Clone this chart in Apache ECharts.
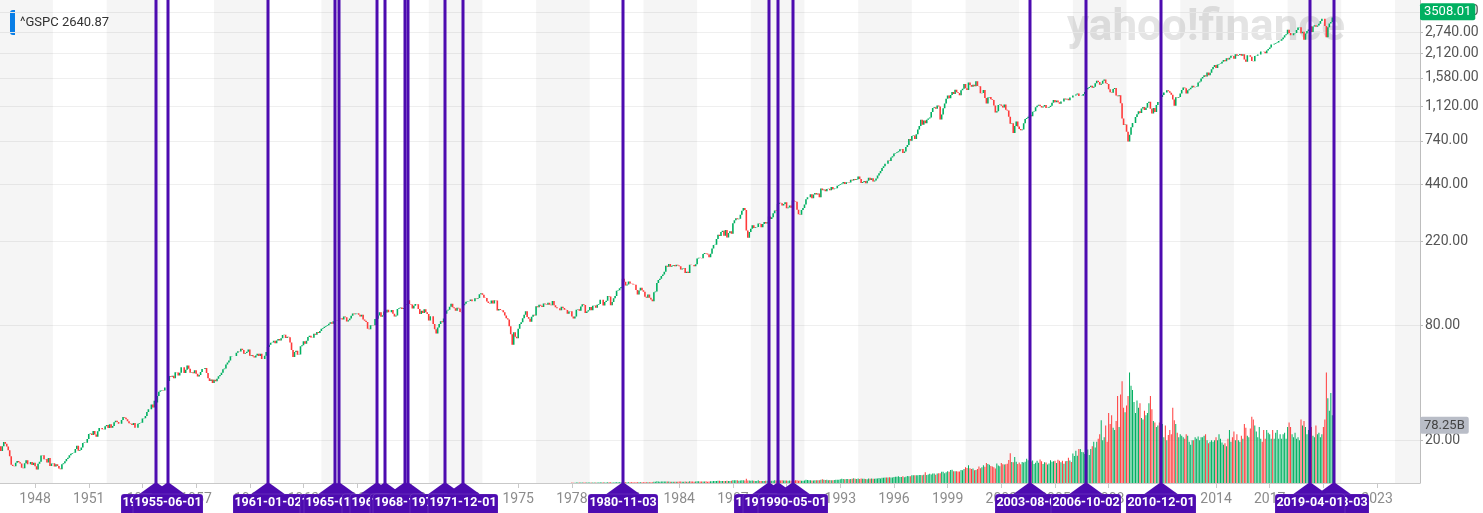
<!DOCTYPE html>
<html><head><meta charset="utf-8">
<script src="https://cdn.jsdelivr.net/npm/echarts@6/dist/echarts.min.js"></script>
<style>html,body{margin:0;padding:0;background:#fff}#c{width:1483px;height:513px}</style>
</head><body><div id="c"></div>
<script>
// ---------- DATA ----------
const START_YEAR = 1946;          // first monthly candle: 1946-01
const FIRST_OPEN = 18.02;
// monthly closes 1946-01 .. 2020-08
const closes = [
18.66,17.66,18.70,19.67,19.25,18.64,17.78,16.55,14.96,14.75,14.69,15.30,
15.66,15.41,15.17,14.44,14.33,15.24,15.77,15.06,15.06,15.45,14.91,15.30,
14.69,14.10,15.14,15.48,16.69,16.74,15.97,16.03,15.38,16.22,14.75,15.20,
15.22,14.62,15.06,14.74,14.29,14.16,15.04,15.22,15.58,16.04,16.28,16.76,
17.05,17.22,17.29,18.07,18.78,17.69,17.84,18.42,19.45,19.53,19.51,20.41,
21.66,21.80,21.40,22.43,21.52,20.96,22.40,23.28,23.26,22.94,22.88,23.77,
24.14,23.26,24.37,23.32,23.86,24.96,25.40,25.03,24.54,24.52,25.66,26.57,
26.38,25.90,25.29,24.62,24.54,24.14,24.75,23.32,23.35,24.54,24.76,24.81,
26.08,26.15,26.94,28.26,29.19,29.21,30.88,29.83,32.31,31.68,34.24,35.98,
36.63,36.76,36.58,37.96,37.91,41.03,43.52,43.18,43.67,42.34,45.51,45.48,
43.82,45.34,48.48,48.38,45.20,46.97,49.39,47.51,45.35,45.58,45.08,46.67,
44.72,43.26,44.11,45.74,47.43,47.37,47.91,45.22,42.42,41.06,41.72,39.99,
41.70,40.84,42.10,43.44,44.09,45.24,47.19,47.75,50.06,51.33,52.48,55.21,
55.42,55.41,55.44,57.59,58.68,58.47,60.51,59.60,56.88,57.52,58.28,59.89,
55.61,56.12,55.34,54.37,55.83,56.92,55.51,56.96,53.52,53.39,55.54,58.11,
61.78,63.44,65.06,65.31,66.56,64.64,66.76,68.07,66.73,68.62,71.32,71.55,
68.84,69.96,69.55,65.24,59.63,54.75,58.23,59.12,56.27,56.52,62.26,63.10,
66.20,64.29,66.57,69.80,70.80,69.37,69.13,72.50,71.70,74.01,73.23,75.02,
77.04,77.80,78.98,79.46,80.37,81.69,83.18,81.83,84.18,84.86,84.42,84.75,
87.56,87.43,86.16,89.11,88.42,84.12,85.25,87.17,89.96,92.42,91.61,92.43,
92.88,91.22,89.23,91.06,86.13,84.74,83.60,77.10,76.56,80.20,80.45,80.33,
86.61,86.78,90.20,94.01,89.08,90.64,94.75,93.64,96.71,93.90,94.00,96.47,
92.24,89.36,90.20,97.59,98.68,99.58,97.74,98.86,102.67,103.41,108.37,103.86,
103.01,98.13,101.51,103.69,103.46,97.71,91.83,95.51,93.12,97.24,93.81,92.06,
85.02,89.50,89.63,81.52,76.55,72.72,78.05,81.52,84.21,83.25,87.20,92.15,
95.88,96.75,100.31,103.95,99.63,98.70,95.58,99.03,98.34,94.23,93.99,102.09,
103.94,106.57,107.20,107.67,109.53,107.14,107.39,111.09,110.55,111.58,116.67,118.05,
116.03,111.68,111.52,106.97,104.95,104.26,108.22,104.25,108.43,108.29,95.96,97.55,
96.57,96.22,93.98,90.31,87.28,86.00,79.31,72.15,63.54,73.90,69.97,68.56,
76.98,81.59,83.36,87.30,91.15,95.19,88.75,86.88,83.87,89.04,91.24,90.19,
100.86,99.71,102.77,101.64,100.18,104.28,103.44,102.91,105.24,102.90,102.10,107.46,
102.03,99.82,98.42,98.44,96.12,100.48,98.85,96.77,96.53,92.34,94.83,95.10,
89.25,87.04,89.21,96.83,97.24,95.53,100.68,103.29,102.54,93.15,94.70,96.11,
99.93,96.28,101.59,101.76,99.08,102.91,103.81,109.32,109.32,101.82,106.16,107.94,
114.16,113.66,102.09,106.29,111.24,114.24,121.67,122.38,125.46,127.47,140.52,135.76,
129.55,131.27,136.00,132.81,132.59,131.21,130.92,122.79,116.18,121.89,126.35,122.55,
120.40,113.11,111.96,116.44,111.88,109.61,107.09,119.51,120.42,133.71,138.54,140.64,
145.30,148.06,152.96,164.42,162.39,168.11,162.56,164.40,166.07,163.55,166.40,164.93,
163.41,157.06,159.18,160.05,150.55,153.18,150.66,166.68,166.10,166.09,163.58,167.24,
179.63,181.18,180.66,179.83,189.55,191.85,190.92,188.63,182.08,189.82,202.17,211.28,
211.78,226.92,238.90,235.52,247.35,250.84,236.12,252.93,231.32,243.98,249.22,242.17,
274.08,284.20,291.70,288.36,290.10,304.00,318.66,329.80,321.83,251.79,230.30,247.08,
257.07,267.82,258.89,261.33,262.16,273.50,272.02,261.52,271.91,278.97,273.70,277.72,
297.47,288.86,294.87,309.64,320.52,317.98,346.08,351.45,349.15,340.36,345.99,353.40,
329.08,331.89,339.94,330.80,361.23,358.02,356.15,322.56,306.05,304.00,322.22,330.22,
343.93,367.07,375.22,375.34,389.83,371.16,387.81,395.43,387.86,392.46,375.22,417.09,
408.79,412.70,403.69,414.95,415.35,408.14,424.21,414.03,417.80,418.68,431.35,435.71,
438.78,443.38,451.67,440.19,450.19,450.53,448.13,463.56,458.93,467.83,461.79,466.45,
481.61,467.14,445.77,450.91,456.50,444.27,458.26,475.49,462.69,472.35,453.69,459.27,
470.42,487.39,500.71,514.71,533.40,544.75,562.06,561.88,584.41,581.50,605.37,615.93,
636.02,640.43,645.50,654.17,669.12,670.63,639.95,651.99,687.31,705.27,757.02,740.74,
786.16,790.82,757.12,801.34,848.28,885.14,954.31,899.47,947.28,914.62,955.40,970.43,
980.28,1049.34,1101.75,1111.75,1090.82,1133.84,1120.67,957.28,1017.01,1098.67,1163.63,1229.23,
1279.64,1238.33,1286.37,1335.18,1301.84,1372.71,1328.72,1320.41,1282.71,1362.93,1388.91,1469.25,
1394.46,1366.42,1498.58,1452.43,1420.60,1454.60,1430.83,1517.68,1436.51,1429.40,1314.95,1320.28,
1366.01,1239.94,1160.33,1249.46,1255.82,1224.38,1211.23,1133.58,1040.94,1059.78,1139.45,1148.08,
1130.20,1106.73,1147.39,1076.92,1067.14,989.82,911.62,916.07,815.28,885.76,936.31,879.82,
855.70,841.15,848.18,916.92,963.59,974.50,990.31,1008.01,995.97,1050.71,1058.20,1111.92,
1131.13,1144.94,1126.21,1107.30,1120.68,1140.84,1101.72,1104.24,1114.58,1130.20,1173.82,1211.92,
1181.27,1203.60,1180.59,1156.85,1191.50,1191.33,1234.18,1220.33,1228.81,1207.01,1249.48,1248.29,
1280.08,1280.66,1294.83,1310.61,1270.09,1270.20,1276.66,1303.82,1335.85,1377.94,1400.63,1418.30,
1438.24,1406.82,1420.86,1482.37,1530.62,1503.35,1455.27,1473.99,1526.75,1549.38,1481.14,1468.36,
1378.55,1330.63,1322.70,1385.59,1400.38,1280.00,1267.38,1282.83,1166.36,968.75,896.24,903.25,
825.88,735.09,797.87,872.81,919.14,919.32,987.48,1020.62,1057.08,1036.19,1095.63,1115.10,
1073.87,1104.49,1169.43,1186.69,1089.41,1030.71,1101.60,1049.33,1141.20,1183.26,1180.55,1257.64,
1286.12,1327.22,1325.83,1363.61,1345.20,1320.64,1292.28,1218.89,1131.42,1253.30,1246.96,1257.60,
1312.41,1365.68,1408.47,1397.91,1310.33,1362.16,1379.32,1406.58,1440.67,1412.16,1416.18,1426.19,
1498.11,1514.68,1569.19,1597.57,1630.74,1606.28,1685.73,1632.97,1681.55,1756.54,1805.81,1848.36,
1782.59,1859.45,1872.34,1883.95,1923.57,1960.23,1930.67,2003.37,1972.29,2018.05,2067.56,2058.90,
1994.99,2104.50,2067.89,2085.51,2107.39,2063.11,2103.84,1972.18,1920.03,2079.36,2080.41,2043.94,
1940.24,1932.23,2059.74,2065.30,2096.95,2098.86,2173.60,2170.95,2168.27,2126.15,2198.81,2238.83,
2278.87,2363.64,2362.72,2384.20,2411.80,2423.41,2470.30,2471.65,2519.36,2575.26,2647.58,2673.61,
2823.81,2713.83,2640.87,2648.05,2705.27,2718.37,2816.29,2901.52,2913.98,2711.74,2760.17,2506.85,
2704.10,2784.49,2834.40,2945.83,2752.06,2941.76,2980.38,2926.46,2976.74,3037.56,3140.98,3230.78,
3225.52,2954.22,2584.59,2912.43,3044.31,3100.29,3271.12,3508.01
];
// monthly volume in billions, 1978-01 .. 2020-08
const VOLUME_START_YEAR = 1978;
const volumesB = [
0.55,0.43,0.49,0.67,0.72,0.59,0.62,0.83,0.66,0.80,0.63,0.56,
0.67,0.57,0.62,0.65,0.67,0.69,0.61,0.87,0.83,0.85,0.73,0.68,
1.08,0.96,0.87,0.75,0.80,0.92,1.07,1.00,1.15,1.10,1.04,1.07,
1.06,0.86,1.09,0.97,0.96,0.94,0.80,0.87,0.98,1.03,0.95,0.94,
1.07,0.98,1.13,1.06,0.97,0.94,1.00,1.58,1.80,2.30,1.91,1.85,
2.08,1.88,1.90,1.94,1.91,1.89,1.70,1.59,1.70,1.76,1.82,1.78,
2.05,1.87,1.76,1.69,1.94,1.61,1.70,2.53,1.88,2.05,1.85,1.96,
2.21,2.21,1.91,1.90,2.20,2.03,2.31,1.85,1.93,2.37,2.46,2.61,
2.72,2.86,3.08,3.08,2.72,2.74,2.67,2.76,2.98,2.61,2.87,2.90,
3.89,3.83,3.83,3.61,2.99,3.33,3.78,3.84,3.32,5.70,3.39,3.53,
3.20,3.46,3.12,2.71,2.80,3.66,2.69,2.75,2.61,2.87,2.98,2.91,
3.15,3.19,3.18,3.17,3.56,3.38,3.32,3.77,3.26,3.85,3.53,3.37,
3.55,3.20,3.36,3.02,3.69,3.17,3.64,3.57,2.89,3.36,3.16,3.08,
3.34,4.31,4.06,3.89,3.73,3.52,3.46,3.57,3.56,3.81,3.67,4.43,
5.05,4.54,4.13,4.33,3.79,4.03,3.86,3.74,4.09,4.38,4.42,4.31,
5.07,5.66,5.27,5.14,5.30,5.54,5.13,5.32,5.74,6.39,5.60,5.55,
6.03,5.56,6.02,5.82,5.64,5.34,5.21,5.94,5.86,6.02,5.70,5.62,
6.10,6.22,6.68,5.97,7.17,7.17,7.39,7.36,7.31,7.68,7.46,7.37,
8.18,8.43,8.42,8.99,8.22,8.27,9.31,7.83,8.47,9.38,9.02,9.30,
10.61,10.45,10.60,10.54,10.41,10.88,10.85,10.40,11.29,14.67,10.94,11.50,
12.63,11.46,12.97,12.73,11.12,13.04,13.18,13.26,15.39,15.34,13.20,14.66,
15.91,15.19,17.48,18.01,15.78,15.85,15.96,15.52,15.64,17.52,17.37,19.10,
21.27,20.39,24.11,19.97,18.99,19.70,17.43,17.59,18.84,22.23,19.97,21.32,
24.19,22.07,27.03,25.70,24.67,23.07,22.21,21.44,19.50,26.58,23.74,22.57,
27.07,25.55,24.92,25.31,26.01,31.09,40.21,28.44,28.24,35.13,28.82,25.71,
27.89,25.59,28.62,27.79,28.82,32.72,30.86,25.31,29.13,30.68,25.68,27.61,
30.17,27.32,32.03,29.34,25.62,28.08,27.81,24.92,26.55,30.87,28.94,29.46,
30.15,27.29,31.37,30.15,28.13,30.06,26.07,29.35,30.00,34.36,30.40,28.31,
40.10,36.68,43.83,36.85,46.11,46.18,42.15,41.62,39.31,45.95,45.27,37.92,
46,50,56,48,56,60,66,85,58,62,78,56,
95,80,92,75,72,84,118,76,120,138,102,96,
105,118,150,132,126,110,95,112,102,108,88,86,
98,92,95,108,118,100,84,82,76,78,82,70,
80,62,78,58,65,72,66,102,85,80,68,62,
66,64,62,60,66,64,56,52,58,58,62,60,
63,58,62,62,64,66,58,54,56,58,56,58,
62,58,66,60,55,52,54,50,60,72,56,62,
70,58,66,58,56,64,60,80,75,64,62,74,
90,86,78,70,62,76,60,56,72,60,72,68,
66,60,72,60,68,72,60,66,60,66,68,60,
76,82,76,66,62,68,60,62,58,86,78,84,
76,66,72,62,76,64,62,78,66,68,62,66,
76,86,150,115,98,122,92,78.25
];
const markerDates = ['1954-10-01','1955-06-01','1961-01-02','1964-10-01','1965-01-04','1967-02-01',
  '1967-08-01','1968-09-03','1968-11-01','1970-12-01','1971-12-01','1980-11-03','1989-01-03',
  '1989-07-03','1990-05-01','2003-08-01','2006-10-02','2010-12-01','2020-08-03','2019-04-01'];
const xLabelYears = [1948,1951,1954,1957,1960,1963,1966,1969,1972,1975,1978,1981,1984,1987,1990,1993,1996,1999,2002,2005,2008,2011,2014,2017,2020,2023];
const yTickValues = [20,80,220,440,740,1120,1580,2120,2740,3500];
const lastPriceText = '3508.01';
const lastPrice = 3508.01;
const lastVolumeText = '78.25B';
const lastVolume = 78.25;
const legendText = '^GSPC 2640.87';

// ---------- CHART ----------
const UP = '#00b061', DOWN = '#ff3a3a', PURPLE = '#4d0bb0';
const X_MIN = 1946.04, X_MAX = 2025.40;
const monthX = i => START_YEAR + i / 12;
const dateX = s => { const p = s.split('-'); return +p[0] + (+p[1] - 1) / 12; };

const candles = closes.map((c, i) => {
  const o = i === 0 ? FIRST_OPEN : closes[i - 1];
  return [monthX(i), o, c, Math.min(o, c), Math.max(o, c)];
});
const volOffset = (VOLUME_START_YEAR - START_YEAR) * 12;
const vols = volumesB.map((v, j) => {
  const k = j + volOffset;
  const up = candles[k][2] >= candles[k][1];
  return { value: [monthX(k), v * 1e9], itemStyle: { color: up ? UP : DOWN } };
});
const bands = [];
for (let y = START_YEAR; y < X_MAX; y += 6) {
  bands.push([{ xAxis: Math.max(y, X_MIN) }, { xAxis: Math.min(y + 3, X_MAX) }]);
}
const fmt = v => Number(v).toLocaleString('en-US', { minimumFractionDigits: 2, maximumFractionDigits: 2 });
const FONT = 'Roboto, "Liberation Sans", sans-serif';

const chart = echarts.init(document.getElementById('c'));
chart.setOption({
  animation: false,
  backgroundColor: '#fff',
  textStyle: { fontFamily: FONT },
  grid: { left: 0, right: 63, top: 0, bottom: 30 },
  xAxis: {
    type: 'value', min: X_MIN, max: X_MAX,
    axisLine: { show: true, lineStyle: { color: '#c9c9c9' } },
    axisTick: { show: true, customValues: xLabelYears, length: 5, lineStyle: { color: '#c9c9c9' } },
    axisLabel: { customValues: xLabelYears, formatter: v => String(Math.round(v)), color: '#8c8c8c', fontSize: 14, margin: 9, fontFamily: FONT },
    splitLine: { show: false }
  },
  yAxis: [{
    type: 'log', position: 'right', min: 12, max: 4044, logBase: 10,
    axisLine: { show: true, lineStyle: { color: '#bdbdbd' } },
    axisTick: { show: true, length: 3, customValues: yTickValues, lineStyle: { color: '#bdbdbd' } },
    axisLabel: { customValues: yTickValues, formatter: v => fmt(v), color: '#555', fontSize: 14, margin: 5, fontFamily: FONT },
    splitLine: { show: true, lineStyle: { color: '#efefef' } }
  }, {
    type: 'value', position: 'right', min: 0, max: 655e9, show: false, splitLine: { show: false }
  }],
  graphic: [
    { type: 'text', z: 0, left: 1067, top: 7,
      style: { text: 'yahoo!finance', fill: '#e4e4e4', font: 'bold 44px ' + FONT } },
    { type: 'group', left: 10, top: 10, z: 100, children: [
      { type: 'rect', shape: { x: 0, y: 0, width: 103, height: 25, r: 4 }, style: { fill: '#fff' } },
      { type: 'rect', shape: { x: 0, y: 0, width: 5, height: 25, r: [3, 0, 0, 3] }, style: { fill: '#0a84f0' } },
      { type: 'text', style: { x: 10, y: 13, text: legendText, fill: '#333', font: '13px ' + FONT, verticalAlign: 'middle' } }
    ]}
  ],
  series: [{
    type: 'candlestick', name: '^GSPC', data: candles, encode: { x: 0, y: [1, 2, 3, 4] },
    barWidth: 1, z: 3,
    itemStyle: { color: UP, color0: DOWN, borderColor: UP, borderColor0: DOWN, borderWidth: 1.6 },
    markArea: { silent: true, itemStyle: { color: 'rgba(0,0,0,0.038)' }, data: bands },
    markLine: {
      silent: true, symbol: 'none', lineStyle: { color: 'rgba(0,0,0,0)', width: 0 },
      data: [{ yAxis: lastPrice }],
      label: { show: true, position: 'end', distance: 0, formatter: lastPriceText, color: '#fff', backgroundColor: UP,
               padding: [2, 4, 2, 4], borderRadius: 2, fontSize: 13, fontFamily: FONT }
    }
  }, {
    type: 'bar', name: 'Volume', yAxisIndex: 1, data: vols, barWidth: 1, z: 3,
    markLine: {
      silent: true, symbol: 'none', lineStyle: { color: 'rgba(0,0,0,0)', width: 0 },
      data: [{ yAxis: lastVolume * 1e9 }],
      label: { show: true, position: 'end', distance: 0, formatter: lastVolumeText, color: '#444', backgroundColor: '#b9bdc7',
               padding: [2, 4, 2, 4], borderRadius: 2, fontSize: 13, fontFamily: FONT }
    }
  }, {
    type: 'custom', name: 'markers', z: 10, clip: false, silent: true,
    data: markerDates.map(d => [dateX(d), 20]),
    encode: { x: 0, y: 1 },
    renderItem: (params, api) => {
      const x = Math.round(api.coord([api.value(0), 20])[0]);
      const cs = params.coordSys;
      const top = cs.y, bottom = cs.y + cs.height;
      const label = markerDates[params.dataIndex];
      return { type: 'group', children: [
        { type: 'line', shape: { x1: x, y1: top, x2: x, y2: bottom }, style: { stroke: PURPLE, lineWidth: 3 } },
        { type: 'polygon', shape: { points: [[x, bottom - 1], [x - 18, bottom + 12], [x + 18, bottom + 12]] }, style: { fill: PURPLE } },
        { type: 'rect', shape: { x: x - 35, y: bottom + 11, width: 70, height: 22, r: 3 }, style: { fill: PURPLE, stroke: 'rgba(255,255,255,0.25)', lineWidth: 0.5 } },
        { type: 'text', style: { x: x, y: bottom + 20, text: label, fill: '#fff', font: 'bold 12.5px ' + FONT, align: 'center', verticalAlign: 'middle' } }
      ]};
    }
  }]
});
</script></body></html>
